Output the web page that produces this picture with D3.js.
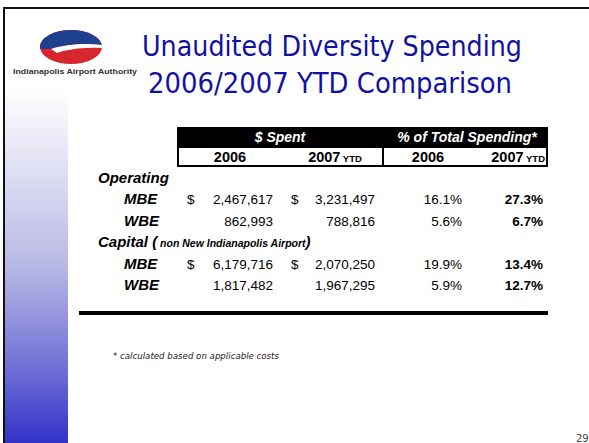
<!DOCTYPE html>
<html>
<head>
<meta charset="utf-8">
<script src="https://cdn.jsdelivr.net/npm/d3@7"></script>
<style>
  body { margin: 0; background: #fff; }
  svg { display: block; }
</style>
</head>
<body>
<svg id="slide" width="589" height="443"></svg>
<script>
// table data
var groups = ["Operating", "Capital"];
var rowNames = ["MBE", "WBE", "MBE", "WBE"];
var rowGroup = [0, 0, 1, 1];
var spent2006 = [2467617, 862993, 6179716, 1817482];
var spent2007 = [3231497, 788816, 2070250, 1967295];
var pct2006 = [16.1, 5.6, 19.9, 5.9];
var pct2007 = [27.3, 6.7, 13.4, 12.7];
var colKeys = ["s06", "s07", "p06", "p07"];
var colYears = ["2006", "2007", "2006", "2007"];
var colYtd = [false, true, false, true];

var svg = d3.select("#slide");
var defs = svg.append("defs");

// left gradient strip
var grad = defs.append("linearGradient").attr("id", "strip")
    .attr("x1", 0).attr("y1", 0).attr("x2", 0).attr("y2", 1);
grad.append("stop").attr("offset", "0").attr("stop-color", "#ffffff");
grad.append("stop").attr("offset", "0.5").attr("stop-color", "#b8b8e6");
grad.append("stop").attr("offset", "0.78").attr("stop-color", "#7272d6");
grad.append("stop").attr("offset", "1").attr("stop-color", "#3232c8");

svg.append("rect").attr("x", 5).attr("y", 90).attr("width", 63).attr("height", 353)
    .attr("fill", "url(#strip)");

// frame
svg.append("line").attr("x1", 3).attr("x2", 589).attr("y1", 8).attr("y2", 8)
    .attr("stroke", "#111").attr("stroke-width", 2);
svg.append("line").attr("x1", 4).attr("x2", 4).attr("y1", 7).attr("y2", 443)
    .attr("stroke", "#111").attr("stroke-width", 2);

// logo
var logo = svg.append("g").attr("transform", "translate(71,47)");
defs.append("clipPath").attr("id", "oval")
    .append("ellipse").attr("rx", 31).attr("ry", 17);
var lg = logo.append("g").attr("clip-path", "url(#oval)");
lg.append("rect").attr("x", -32).attr("y", -18).attr("width", 64).attr("height", 36).attr("fill", "#d8262e");
lg.append("path").attr("d", "M-32,-18 H32 V-2 C15,-4 -5,-3 -20,2 L-32,2 Z").attr("fill", "#1f3f8f");
lg.append("path").attr("d", "M-20,2 C-5,-3 15,-4 32,-2 L32,1 C18,0 5,1 -8,4 L-14,6 Z").attr("fill", "#fff");
logo.append("text").attr("x", 4).attr("y", 27).attr("text-anchor", "middle")
    .attr("font-family", "Liberation Sans, Arial, sans-serif").attr("font-weight", "bold")
    .attr("font-size", 7.6).attr("fill", "#333")
    .attr("textLength", 124).attr("lengthAdjust", "spacingAndGlyphs")
    .text("Indianapolis Airport Authority");

// title
var title = svg.append("g").attr("font-family", "DejaVu Sans, sans-serif")
    .attr("fill", "#1212a0").attr("font-size", 28.5).attr("text-anchor", "middle");
title.append("text").attr("x", 332).attr("y", 56)
    .attr("textLength", 380).attr("lengthAdjust", "spacingAndGlyphs")
    .text("Unaudited Diversity Spending");
title.append("text").attr("x", 330).attr("y", 93)
    .attr("textLength", 364).attr("lengthAdjust", "spacingAndGlyphs")
    .text("2006/2007 YTD Comparison");

// scales
var colRight = d3.scaleOrdinal().domain(colKeys).range([273, 375, 462, 543]);
var colHead = d3.scaleOrdinal().domain(colKeys).range([230, 335, 428, 521]);
var lineY = d3.scaleLinear().domain([0, 5]).range([183, 290]);
var fmtMoney = d3.format(",");
var fmtPct = function (v) { return d3.format(".1f")(v) + "%"; };

var tbl = svg.append("g").attr("font-family", "Liberation Sans, Arial, sans-serif").attr("fill", "#000");

// header
tbl.append("rect").attr("x", 177).attr("y", 127).attr("width", 371).attr("height", 20).attr("fill", "#000");
tbl.append("rect").attr("x", 178).attr("y", 147).attr("width", 369).attr("height", 19)
    .attr("fill", "#fff").attr("stroke", "#000").attr("stroke-width", 2);
tbl.append("line").attr("x1", 383).attr("x2", 383).attr("y1", 147).attr("y2", 166)
    .attr("stroke", "#000").attr("stroke-width", 2);
tbl.append("text").attr("x", 280).attr("y", 142).attr("text-anchor", "middle")
    .attr("fill", "#fff").attr("font-weight", "bold").attr("font-style", "italic").attr("font-size", 14)
    .text("$ Spent");
tbl.append("text").attr("x", 467).attr("y", 142).attr("text-anchor", "middle")
    .attr("fill", "#fff").attr("font-weight", "bold").attr("font-style", "italic").attr("font-size", 14)
    .text("% of Total Spending*");

var heads = tbl.selectAll("text.head").data(colKeys).enter().append("text")
    .attr("class", "head")
    .attr("x", function (d, i) { return i === 3 ? 545 : colHead(d); })
    .attr("y", 162)
    .attr("text-anchor", function (d, i) { return i === 3 ? "end" : "middle"; })
    .attr("font-weight", "bold").attr("font-size", 14.5);
heads.append("tspan").text(function (d, i) { return colYears[i]; });
heads.filter(function (d, i) { return colYtd[i]; }).append("tspan")
    .attr("font-size", 9.5).text(" YTD");

// group labels
var lbl = tbl.append("g").attr("font-weight", "bold").attr("font-style", "italic");
lbl.append("text").attr("x", 98).attr("y", lineY(0)).attr("font-size", 15).text("Operating");
var cap = lbl.append("text").attr("x", 98).attr("y", lineY(3)).attr("font-size", 15);
cap.append("tspan").text("Capital (");
cap.append("tspan").attr("font-size", 10.5).text(" non New Indianapolis Airport");
cap.append("tspan").text(")");

// data rows
var rowLine = function (i) { return rowGroup[i] * 3 + (i % 2) + 1; };
var rows = tbl.selectAll("g.row").data(rowNames).enter().append("g")
    .attr("class", "row")
    .attr("transform", function (d, i) { return "translate(0," + lineY(rowLine(i)) + ")"; });

rows.append("text").attr("x", 124).attr("font-weight", "bold").attr("font-style", "italic")
    .attr("font-size", 15).text(function (d) { return d; });

rows.filter(function (d, i) { return i % 2 === 0; }).each(function () {
    d3.select(this).append("text").attr("x", 187).attr("font-size", 13.5).text("$");
    d3.select(this).append("text").attr("x", 291).attr("font-size", 13.5).text("$");
});

rows.append("text").attr("x", colRight("s06")).attr("text-anchor", "end").attr("font-size", 13.5)
    .text(function (d, i) { return fmtMoney(spent2006[i]); });
rows.append("text").attr("x", colRight("s07")).attr("text-anchor", "end").attr("font-size", 13.5)
    .text(function (d, i) { return fmtMoney(spent2007[i]); });
rows.append("text").attr("x", colRight("p06")).attr("text-anchor", "end").attr("font-size", 13.5)
    .text(function (d, i) { return fmtPct(pct2006[i]); });
rows.append("text").attr("x", colRight("p07")).attr("text-anchor", "end").attr("font-size", 13.5)
    .attr("font-weight", "bold")
    .text(function (d, i) { return fmtPct(pct2007[i]); });

// bottom rule
tbl.append("rect").attr("x", 79).attr("y", 311).attr("width", 469).attr("height", 4).attr("fill", "#000");

// footnote + page number
svg.append("text").attr("x", 113).attr("y", 359)
    .attr("font-family", "DejaVu Sans, sans-serif").attr("font-style", "italic").attr("font-size", 8)
    .attr("fill", "#222").attr("textLength", 166).attr("lengthAdjust", "spacingAndGlyphs")
    .text("* calculated based on applicable costs");
svg.append("text").attr("x", 576).attr("y", 442)
    .attr("font-family", "DejaVu Sans, sans-serif").attr("font-size", 10).attr("fill", "#444")
    .text("29");
</script>
</body>
</html>
